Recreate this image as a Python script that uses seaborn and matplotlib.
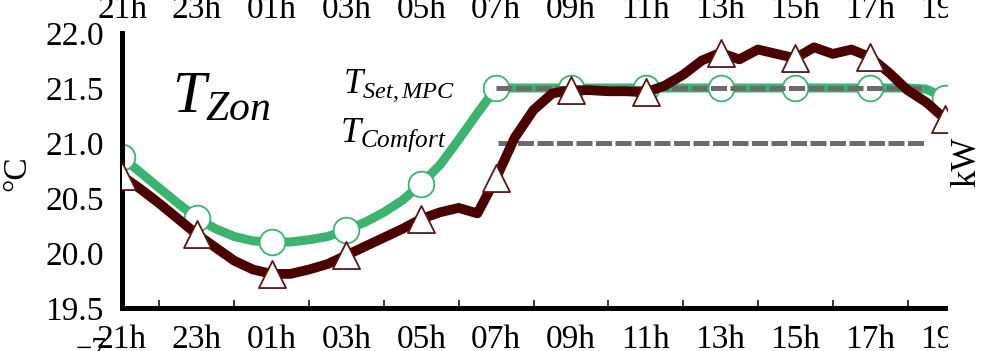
import numpy as np
import matplotlib
matplotlib.use("Agg")
import matplotlib.pyplot as plt
import seaborn as sns
from matplotlib.patches import Rectangle
from matplotlib.ticker import FixedLocator

# ---- data (hours since 21h, half-hour samples) ----
hours = list(np.arange(0, 22.5, 0.5))
t_set_mpc = [20.87, 20.73, 20.59, 20.45, 20.32, 20.22, 20.15, 20.11, 20.10, 20.10,
             20.12, 20.15, 20.21, 20.28, 20.37, 20.48, 20.63, 20.80, 21.03, 21.27,
             21.50, 21.50, 21.50, 21.50, 21.50, 21.50, 21.50, 21.50, 21.50, 21.50,
             21.50, 21.50, 21.50, 21.50, 21.50, 21.50, 21.50, 21.50, 21.50, 21.50,
             21.50, 21.50, 21.50, 21.49, 21.41]
t_zone = [20.70, 20.58, 20.45, 20.31, 20.17, 20.05, 19.93, 19.85, 19.81, 19.81,
          19.85, 19.90, 19.98, 20.06, 20.14, 20.22, 20.31, 20.37, 20.41, 20.36,
          20.68, 21.05, 21.30, 21.45, 21.48, 21.48, 21.47, 21.47, 21.46, 21.52,
          21.62, 21.75, 21.82, 21.76, 21.85, 21.81, 21.77, 21.87, 21.81, 21.85,
          21.78, 21.64, 21.48, 21.37, 21.22]
mpc_ref_x = [10.0, 21.5]
mpc_ref_y = [21.5, 21.5]
comfort_x = [10.05, 21.45]
comfort_y = [21.0, 21.0]

tick_pos = [0, 2, 4, 6, 8, 10, 12, 14, 16, 18, 20, 22]
tick_labels = ["21h", "23h", "01h", "03h", "05h", "07h", "09h", "11h",
               "13h", "15h", "17h", "19h"]
minor_pos = [1, 3, 5, 7, 9, 11, 13, 15, 17, 19, 21]
y_ticks = [19.5, 20.0, 20.5, 21.0, 21.5, 22.0]

GREEN = "#3cb371"
BROWN = "#4a0000"
BROWN_EDGE = "#5a1515"
GREY = "#6b6b6b"
FS = 24

sns.set_theme(style="white")
plt.rcParams["font.family"] = ["Liberation Serif", "DejaVu Serif"]
plt.rcParams["mathtext.fontset"] = "custom"
plt.rcParams["mathtext.it"] = "Liberation Serif:italic"
plt.rcParams["mathtext.rm"] = "Liberation Serif"
plt.rcParams["text.color"] = "black"

W, H = 981, 351
fig = plt.figure(figsize=(W / 100, H / 100), dpi=100)
ax = fig.add_axes([122 / W, 1 - 308 / H, (948 - 122) / W, (308 - 33) / H])

# green set point line + circles
sns.lineplot(x=hours, y=t_set_mpc, color=GREEN, lw=6.5, ax=ax, zorder=2)
sns.scatterplot(x=hours[::4], y=t_set_mpc[::4], marker="o", s=18.5 ** 2,
                color="white", edgecolor=GREEN, linewidth=1.3, ax=ax, zorder=2.5)

# dashed reference lines
sns.lineplot(x=mpc_ref_x, y=mpc_ref_y, color=GREY, lw=3.6,
             linestyle=(0, (3.2, 0.7)), ax=ax, zorder=3)
sns.lineplot(x=comfort_x, y=comfort_y, color=GREY, lw=3.6,
             linestyle=(0, (3.2, 0.7)), ax=ax, zorder=3)

# zone temperature line + triangles
sns.lineplot(x=hours, y=t_zone, color=BROWN, lw=7, ax=ax, zorder=4)
sns.scatterplot(x=hours[::4], y=t_zone[::4], marker="^", s=19.5 ** 2,
                color="white", edgecolor=BROWN_EDGE, linewidth=1.3, ax=ax, zorder=5)

ax.set_xlim(0, 22.08)
ax.set_ylim(19.5, 22.0)
ax.xaxis.set_major_locator(FixedLocator(tick_pos))
ax.set_xticklabels(tick_labels)
ax.xaxis.set_minor_locator(FixedLocator(minor_pos))
ax.set_yticks(y_ticks)
ax.set_yticklabels([f"{v:.1f}" for v in y_ticks])
ax.tick_params(axis="both", which="major", direction="in", length=12, width=1.1,
               color="black", labelsize=FS, labelcolor="black")
ax.tick_params(axis="x", which="major", pad=12)
ax.tick_params(axis="y", which="major", pad=13)
ax.tick_params(axis="x", which="minor", direction="in", length=6, width=1.1,
               color="black", bottom=True)
for s in ["top", "right"]:
    ax.spines[s].set_visible(False)
for s in ["left", "bottom"]:
    ax.spines[s].set_linewidth(3.6)
    ax.spines[s].set_color("black")
ax.grid(False)
ax.set_xlabel("")
ax.set_ylabel("°C", fontsize=24, color="black")
ax.yaxis.label.set_verticalalignment("center")
ax.yaxis.set_label_coords((17 - 122) / 826, (308 - 173) / 275)

secax = ax.secondary_xaxis("top")
secax.set_xticks(tick_pos)
secax.set_xticklabels(tick_labels)
secax.tick_params(length=0, pad=6, labelsize=FS, labelcolor="black")
secax.spines["top"].set_visible(False)

# annotations
ax.text(1.34, 21.28, r"$T_{Zon}$", fontsize=43, ha="left", va="baseline")
ax.text(5.91, 21.455, r"$T_{Set,MPC}$", fontsize=25, ha="left", va="baseline")
ax.text(5.83, 21.01, r"$T_{Comfort}$", fontsize=26, ha="left", va="baseline")

# crop on the right side, as in the reference
fig.add_artist(Rectangle((948 / W, 0), 1 - 948 / W, 1, transform=fig.transFigure,
                         facecolor="white", edgecolor="none", zorder=10))
fig.text(967 / W, 1 - 162 / H, "kW", rotation=90, ha="center", va="center",
         fontsize=25, zorder=11)
fig.text(76 / W, 1 - 337 / H, "\u22127", ha="left", va="top", fontsize=21)

fig.savefig("out.png", dpi=100, facecolor="white")
